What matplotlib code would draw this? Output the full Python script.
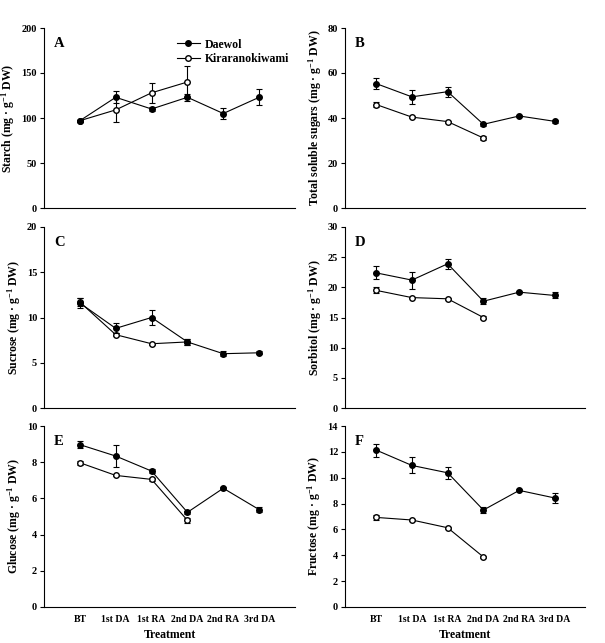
import matplotlib
matplotlib.use("Agg")
import matplotlib.pyplot as plt
from matplotlib.lines import Line2D

plt.rcParams["font.family"] = "Liberation Serif"
plt.rcParams["font.weight"] = "bold"
plt.rcParams["mathtext.default"] = "regular"

treatments = ["BT", "1st DA", "1st RA", "2nd DA", "2nd RA", "3rd DA"]

# Daewol (6 points), Kiraranokiwami (4 points)
starch_d = [97, 123, 110, 123, 105, 123]
starch_d_err = [1, 6.5, 2, 3.7, 6.5, 9]
starch_k = [97, 109, 128, 140]
starch_k_err = [1, 13, 11, 18]

tss_d = [55.3, 49.4, 51.7, 37.2, 40.9, 38.5]
tss_d_err = [2.4, 3.0, 2.3, 0.8, 0.5, 0.7]
tss_k = [46.0, 40.4, 38.4, 31.1]
tss_k_err = [1.2, 0.4, 0.4, 0.8]

suc_d = [11.6, 8.8, 10.0, 7.3, 6.0, 6.1]
suc_d_err = [0.5, 0.55, 0.85, 0.3, 0.25, 0.15]
suc_k = [11.7, 8.1, 7.1, 7.3]
suc_k_err = [0.4, 0.15, 0.1, 0.35]

sor_d = [22.4, 21.2, 23.9, 17.7, 19.2, 18.65]
sor_d_err = [1.1, 1.4, 0.85, 0.5, 0.2, 0.5]
sor_k = [19.5, 18.3, 18.1, 15.0]
sor_k_err = [0.5, 0.15, 0.15, 0.3]

glc_d = [8.97, 8.34, 7.51, 5.23, 6.56, 5.38]
glc_d_err = [0.2, 0.6, 0.1, 0.08, 0.05, 0.15]
glc_k = [7.97, 7.27, 7.05, 4.79]
glc_k_err = [0.12, 0.05, 0.1, 0.15]

fru_d = [12.14, 10.95, 10.38, 7.5, 9.02, 8.43]
fru_d_err = [0.5, 0.62, 0.48, 0.2, 0.08, 0.4]
fru_k = [6.93, 6.73, 6.13, 3.87]
fru_k_err = [0.2, 0.08, 0.08, 0.08]

panels = [
    ("A", "Starch", starch_d, starch_d_err, starch_k, starch_k_err, 200, 50),
    ("B", "Total soluble sugars", tss_d, tss_d_err, tss_k, tss_k_err, 80, 20),
    ("C", "Sucrose", suc_d, suc_d_err, suc_k, suc_k_err, 20, 5),
    ("D", "Sorbitol", sor_d, sor_d_err, sor_k, sor_k_err, 30, 5),
    ("E", "Glucose", glc_d, glc_d_err, glc_k, glc_k_err, 10, 2),
    ("F", "Fructose", fru_d, fru_d_err, fru_k, fru_k_err, 14, 2),
]

W, H = 605, 643
fig = plt.figure(figsize=(W / 100, H / 100), dpi=100)

cols = [(44, 295), (345, 585)]
xlims = [(0, 7), (0.13, 6.84)]
rows = [(28, 208), (227, 408), (426, 607)]

for i, (letter, name, d, de, k, ke, ymax, step) in enumerate(panels):
    r, c = divmod(i, 2)
    x0, x1 = cols[c]
    y0, y1 = rows[r]
    ax = fig.add_axes([x0 / W, 1 - y1 / H, (x1 - x0) / W, (y1 - y0) / H])
    xd = list(range(1, len(d) + 1))
    xk = list(range(1, len(k) + 1))
    ax.errorbar(xk, k, yerr=ke, color="black", marker="o", mfc="white",
                mec="black", ms=4, lw=0.8, elinewidth=0.8, capsize=2.5,
                capthick=0.8, zorder=3)
    ax.errorbar(xd, d, yerr=de, color="black", marker="o", mfc="black",
                mec="black", ms=4, lw=0.8, elinewidth=0.8, capsize=2.5,
                capthick=0.8, zorder=4)
    ax.set_xlim(*xlims[c])
    ax.set_ylim(0, ymax)
    ax.set_yticks(range(0, ymax + 1, step))
    ax.spines["top"].set_visible(False)
    ax.spines["right"].set_visible(False)
    ax.tick_params(axis="y", direction="out", length=3, width=0.8, labelsize=7.5, pad=2)
    for lab in ax.get_yticklabels():
        lab.set_fontweight("bold")
    if r == 2:
        ax.set_xticks(xd)
        ax.set_xticklabels(treatments, fontsize=7, fontweight="bold")
        ax.tick_params(axis="x", length=0, pad=6)
        ax.set_xlabel("Treatment", fontsize=8.5, fontweight="bold", labelpad=3)
    else:
        ax.set_xticks([])
    ax.set_ylabel(name + r" (mg · g$^{-1}$ DW)", fontsize=8.5, fontweight="bold", labelpad=3)
    ax.text(0.04, 0.95, letter, transform=ax.transAxes, fontsize=10.5,
            fontweight="bold", va="top", ha="left")
    if letter == "A":
        hs = [Line2D([], [], color="black", marker="o", mfc="black", ms=4, lw=0.8),
              Line2D([], [], color="black", marker="o", mfc="white", ms=4, lw=0.8)]
        ax.legend(hs, ["Daewol", "Kiraranokiwami"], loc="upper right",
                  bbox_to_anchor=(1.02, 1.0), frameon=False, handlelength=2.0,
                  handletextpad=0.4, prop={"weight": "bold", "size": 8.5},
                  labelspacing=0.2)

fig.savefig("out.png", dpi=100)
